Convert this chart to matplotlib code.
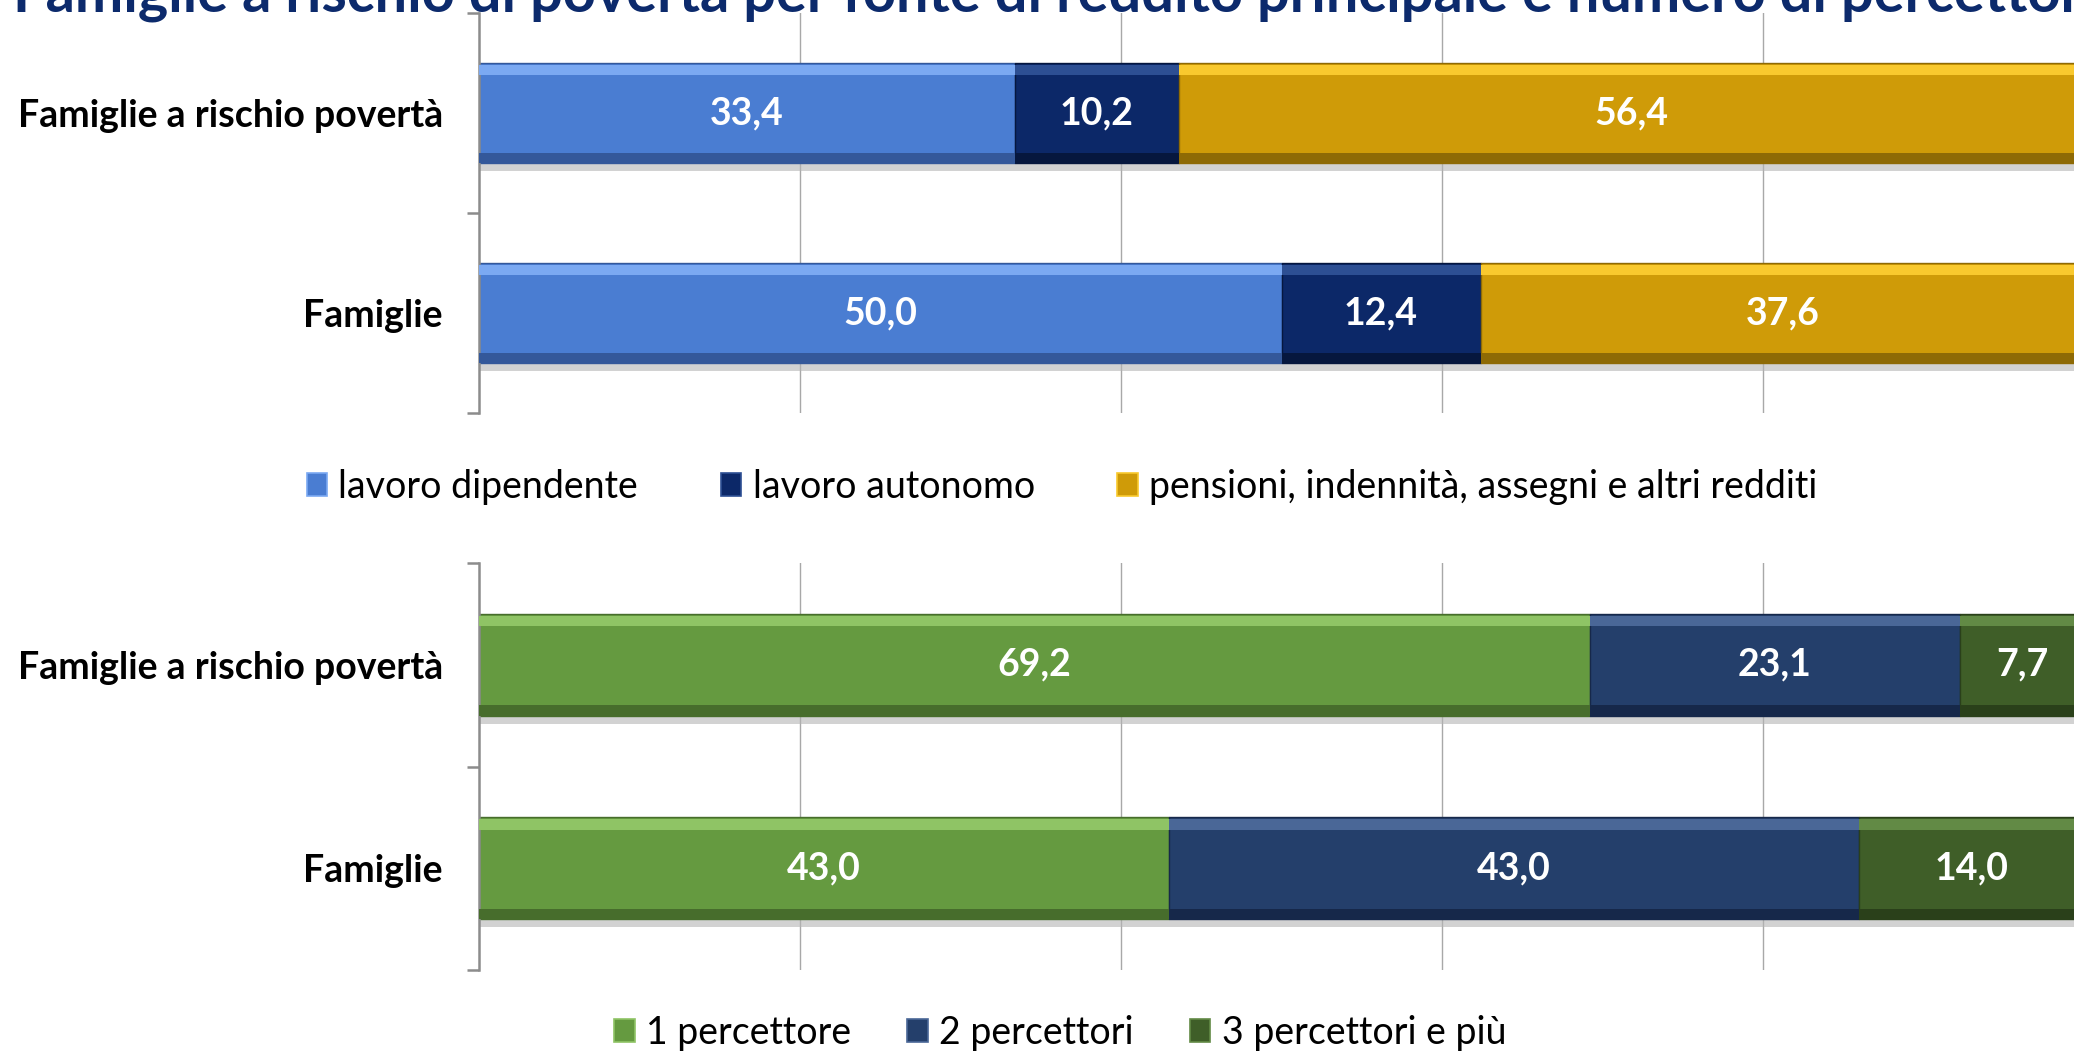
import matplotlib
matplotlib.use("Agg")
import matplotlib.pyplot as plt
import matplotlib.patches as mpatches
import numpy as np

plt.rcParams["font.family"] = ["Lato", "DejaVu Sans"]

# --- data ---
title = "Famiglie a rischio di povertà per fonte di reddito principale e numero di percettori"
categories = ["Famiglie a rischio povertà", "Famiglie"]

fonte_labels = ["lavoro dipendente", "lavoro autonomo",
                "pensioni, indennità, assegni e altri redditi"]
dipendente = [33.4, 50.0]
autonomo = [10.2, 12.4]
pensioni = [56.4, 37.6]

percettori_labels = ["1 percettore", "2 percettori", "3 percettori e più"]
perc_1 = [69.2, 43.0]
perc_2 = [23.1, 43.0]
perc_3 = [7.7, 14.0]

fonte_colors = ["#4a7dd2", "#0c2868", "#cf9b08"]
fonte_light = ["#7ba9f2", "#2d4f93", "#f9c92e"]
fonte_dark = ["#34589a", "#06173e", "#8e6a05"]
perc_colors = ["#659a40", "#243f6b", "#3f5e28"]
perc_light = ["#8fc465", "#4a6797", "#628a45"]
perc_dark = ["#476d2c", "#16284a", "#2a401a"]

W, H = 2074, 1053
fig = plt.figure(figsize=(W / 100, H / 100), dpi=100)

x0 = 479 / W
ax_w = 16.05 * 100 / W
ax_top = fig.add_axes([x0, 1 - 413 / H, ax_w, 400 / H])
ax_bot = fig.add_axes([x0, 1 - 970 / H, ax_w, 407 / H])

FS = 27
BAR_H = 0.5


def draw_stack(ax, series, colors, lights, darks):
    y = np.arange(len(categories))[::-1]  # first category on top
    left = np.zeros(len(categories))
    for vals, c, cl, cd in zip(series, colors, lights, darks):
        vals = np.array(vals)
        # drop shadow
        ax.barh(y - 0.04, vals, left=left, height=BAR_H, color="#b5b5b5",
                alpha=0.6, zorder=1, linewidth=0)
        ax.barh(y, vals, left=left, height=BAR_H, color=c, zorder=2,
                edgecolor=cd, linewidth=1.0)
        # bevel: light strip on top, dark strip at the bottom
        ax.barh(y + BAR_H / 2 - 0.035, vals, left=left, height=0.05,
                color=cl, zorder=3, linewidth=0)
        ax.barh(y - BAR_H / 2 + 0.025, vals, left=left, height=0.05,
                color=cd, zorder=3, linewidth=0)
        for yi, li, v in zip(y, left, vals):
            ax.text(li + v / 2, yi, f"{v:.1f}".replace(".", ","),
                    ha="center", va="center", color="white",
                    fontsize=FS, fontweight="bold", zorder=4)
        left = left + vals
    ax.set_xlim(0, 100)
    ax.set_ylim(-0.5, 1.5)
    ax.set_xticks([20, 40, 60, 80])
    ax.xaxis.grid(True, color="#a8a8a8", linewidth=1.0, zorder=0)
    ax.set_axisbelow(True)
    ax.tick_params(axis="x", length=0, labelbottom=False)
    ax.set_yticks([-0.5, 0.5, 1.5])
    ax.set_yticklabels([])
    ax.set_yticks(y, minor=True)
    ax.set_yticklabels(categories, minor=True, fontsize=FS, fontweight="bold")
    ax.tick_params(axis="y", which="major", length=8.5, width=1.8,
                   color="#8c8c8c", direction="out")
    ax.tick_params(axis="y", which="minor", length=0, pad=26)
    for s in ["top", "right", "bottom"]:
        ax.spines[s].set_visible(False)
    ax.spines["left"].set_color("#8c8c8c")
    ax.spines["left"].set_linewidth(1.8)


draw_stack(ax_top, [dipendente, autonomo, pensioni],
           fonte_colors, fonte_light, fonte_dark)
draw_stack(ax_bot, [perc_1, perc_2, perc_3],
           perc_colors, perc_light, perc_dark)

h1 = [mpatches.Patch(facecolor=c, edgecolor=cl, linewidth=1.2)
      for c, cl in zip(fonte_colors, fonte_light)]
fig.legend(h1, fonte_labels, loc="center", bbox_to_anchor=(1062 / W, 1 - 487 / H),
           ncol=3, frameon=False, fontsize=FS, handlelength=0.55, handleheight=0.55,
           handletextpad=0.3, columnspacing=2.2)

h2 = [mpatches.Patch(facecolor=c, edgecolor=cl, linewidth=1.2)
      for c, cl in zip(perc_colors, perc_light)]
fig.legend(h2, percettori_labels, loc="center", bbox_to_anchor=(1060 / W, 1 - 1033 / H),
           ncol=3, frameon=False, fontsize=FS, handlelength=0.55, handleheight=0.55,
           handletextpad=0.3, columnspacing=1.5)

fig.text(13 / W, 1 - 12 / H, title, ha="left", va="baseline",
         fontsize=41.5, fontweight="bold", color="#0c2a6c")

fig.savefig("out.png", dpi=100)
